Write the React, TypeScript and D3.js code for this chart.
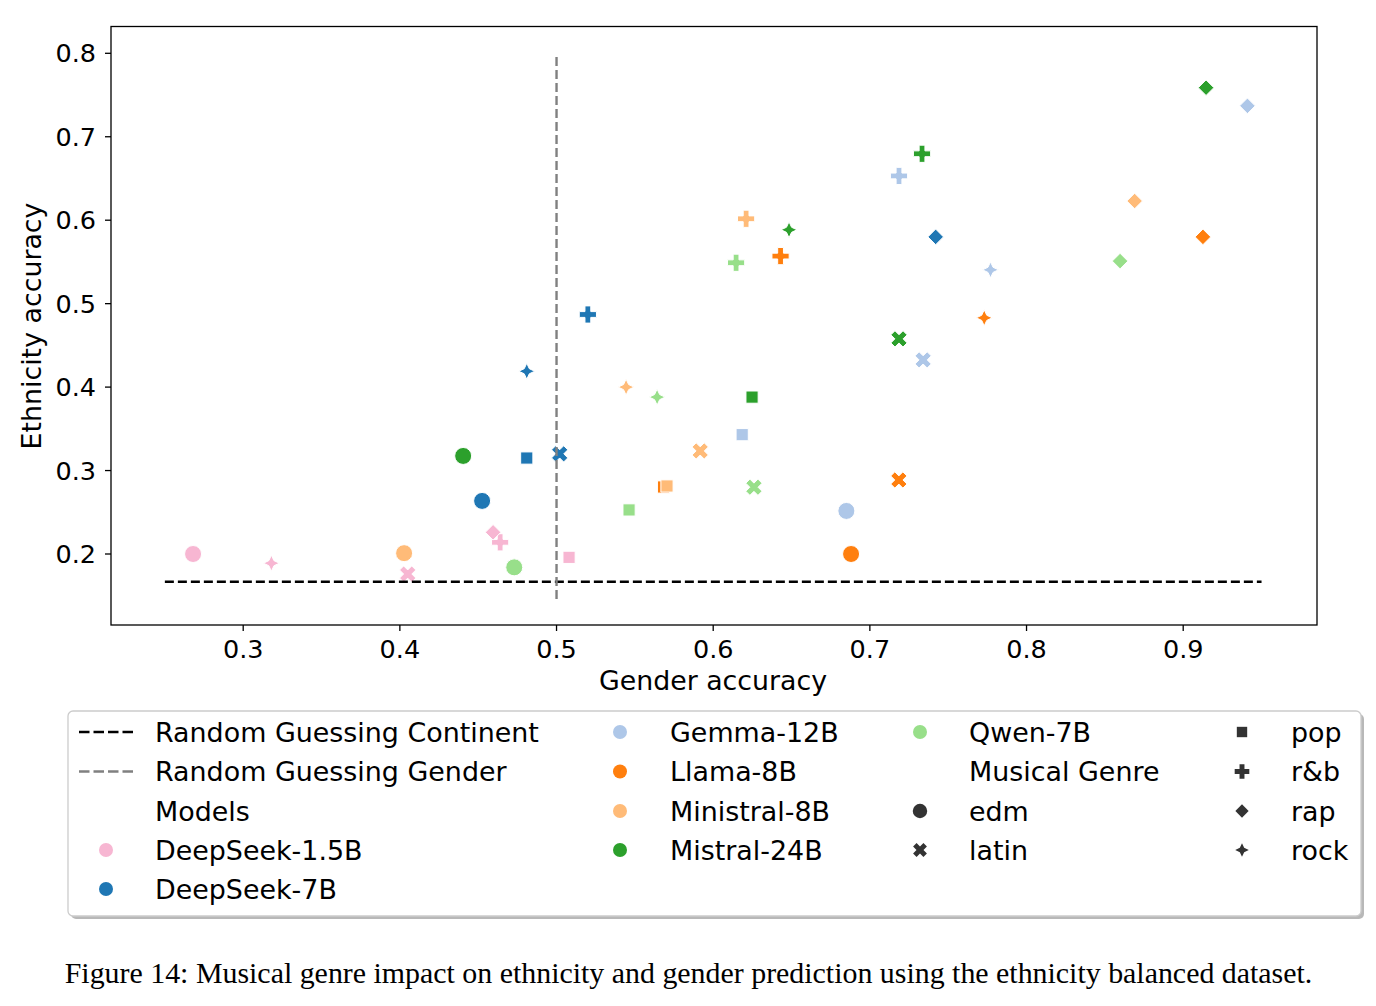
import React from "react";
import * as d3 from "d3";

const genres = ["edm", "latin", "pop", "r&b", "rap", "rock"];
const models = ["DeepSeek-1.5B", "DeepSeek-7B", "Gemma-12B", "Llama-8B", "Ministral-8B", "Mistral-24B", "Qwen-7B"];
const modelColors = ["#f7b6d2", "#1f77b4", "#aec7e8", "#ff7f0e", "#ffbb78", "#2ca02c", "#98df8a"];

// values per model, in genre order: edm, latin, pop, r&b, rap, rock
const genderAcc = [
  [0.268, 0.405, 0.508, 0.464, 0.4595, 0.318],
  [0.4525, 0.502, 0.481, 0.52, 0.742, 0.481],
  [0.685, 0.734, 0.6185, 0.7186, 0.941, 0.777],
  [0.688, 0.7185, 0.5683, 0.643, 0.9126, 0.773],
  [0.4027, 0.5917, 0.5705, 0.621, 0.869, 0.5444],
  [0.4404, 0.7186, 0.6248, 0.7333, 0.9146, 0.6484],
  [0.473, 0.626, 0.5463, 0.6146, 0.8597, 0.5642],
];
const ethnicityAcc = [
  [0.2, 0.176, 0.196, 0.214, 0.226, 0.189],
  [0.2636, 0.32, 0.315, 0.487, 0.58, 0.419],
  [0.2516, 0.4326, 0.343, 0.653, 0.737, 0.5405],
  [0.2, 0.2887, 0.2803, 0.557, 0.58, 0.483],
  [0.201, 0.3235, 0.2815, 0.6017, 0.623, 0.4],
  [0.3175, 0.4578, 0.388, 0.6796, 0.7588, 0.5885],
  [0.184, 0.28, 0.2528, 0.549, 0.551, 0.388],
];

const xTicks = [0.3, 0.4, 0.5, 0.6, 0.7, 0.8, 0.9];
const yTicks = [0.2, 0.3, 0.4, 0.5, 0.6, 0.7, 0.8];
const randomContinent = 1 / 6;
const randomGender = 0.5;
const continentLineX = [0.25, 0.95];
const genderLineY = [0.146, 0.8];

const FONT = "'DejaVu Sans', sans-serif";

function markerPath(genre: string, s: number): string {
  const p = d3.path();
  if (genre === "edm") {
    const r = 8.5 * s;
    p.arc(0, 0, r, 0, Math.PI * 2);
    p.closePath();
  } else if (genre === "pop") {
    const h = 6.1 * s;
    p.rect(-h, -h, 2 * h, 2 * h);
  } else if (genre === "r&b" || genre === "latin") {
    const L = 8.6 * s;
    const t = 2.9 * s;
    const pts: [number, number][] = [
      [-t, -L], [t, -L], [t, -t], [L, -t], [L, t], [t, t], [t, L], [-t, L], [-t, t], [-L, t], [-L, -t], [-t, -t],
    ];
    const a = genre === "latin" ? Math.PI / 4 : 0;
    const rot = pts.map(([x, y]) => [x * Math.cos(a) - y * Math.sin(a), x * Math.sin(a) + y * Math.cos(a)]);
    rot.forEach(([x, y], i) => (i === 0 ? p.moveTo(x, y) : p.lineTo(x, y)));
    p.closePath();
  } else if (genre === "rap") {
    const h = 7.8 * s;
    p.moveTo(0, -h);
    p.lineTo(h, 0);
    p.lineTo(0, h);
    p.lineTo(-h, 0);
    p.closePath();
  } else {
    const R = 8 * s;
    const r = 3.6 * s;
    for (let i = 0; i < 8; i++) {
      const ang = -Math.PI / 2 + (i * Math.PI) / 4;
      const rr = i % 2 === 0 ? R : r;
      const x = rr * Math.cos(ang);
      const y = rr * Math.sin(ang);
      i === 0 ? p.moveTo(x, y) : p.lineTo(x, y);
    }
    p.closePath();
  }
  return p.toString();
}

export default function App() {
  const W = 1376;
  const H = 1006;
  const left = 111, right = 1317, top = 26.5, bottom = 625;
  const x = d3.scaleLinear().domain([0.3, 0.9]).range([243.2, 1183.2]);
  const y = d3.scaleLinear().domain([0.2, 0.8]).range([554, 53.3]);

  const points: { gx: number; ey: number; color: string; genre: string }[] = [];
  models.forEach((m, mi) => {
    genres.forEach((g, gi) => {
      points.push({ gx: genderAcc[mi][gi], ey: ethnicityAcc[mi][gi], color: modelColors[mi], genre: g });
    });
  });

  const rowY = [732, 771.5, 811, 850, 889];
  const col1Items = [
    { kind: "line", color: "#000000", label: "Random Guessing Continent" },
    { kind: "line", color: "#808080", label: "Random Guessing Gender" },
    { kind: "title", color: "", label: "Models" },
    { kind: "model", color: modelColors[0], label: models[0] },
    { kind: "model", color: modelColors[1], label: models[1] },
  ];
  const col2Items = models.slice(2, 6).map((m, i) => ({ color: modelColors[i + 2], label: m }));
  const LFS = 26.9;

  return (
    <div style={{ position: "absolute", left: 0, top: 0 }}>
      <svg width={W} height={H} viewBox={`0 0 ${W} ${H}`} style={{ display: "block", background: "#fff" }}>
        <rect x={0} y={0} width={W} height={H} fill="#fff" />
        {/* points */}
        <g>
          {points.map((pt, i) => (
            <path
              key={i}
              d={markerPath(pt.genre, 1)}
              transform={`translate(${x(pt.gx)},${y(pt.ey)})`}
              fill={pt.color}
              stroke="#fff"
              strokeWidth={1}
            />
          ))}
        </g>
        {/* reference lines */}
        <line
          x1={x(continentLineX[0])}
          x2={x(continentLineX[1])}
          y1={y(randomContinent)}
          y2={y(randomContinent)}
          stroke="#000"
          strokeWidth={2.4}
          strokeDasharray="9 4"
        />
        <line
          x1={x(randomGender)}
          x2={x(randomGender)}
          y1={y(genderLineY[0])}
          y2={y(genderLineY[1])}
          stroke="#808080"
          strokeWidth={2.4}
          strokeDasharray="9 4"
        />
        {/* frame */}
        <rect x={left} y={top} width={right - left} height={bottom - top} fill="none" stroke="#000" strokeWidth={1.3} />
        {/* ticks */}
        {xTicks.map((t) => (
          <g key={`x${t}`}>
            <line x1={x(t)} x2={x(t)} y1={bottom} y2={bottom + 6} stroke="#000" strokeWidth={1.3} />
            <text x={x(t)} y={658} textAnchor="middle" fontFamily={FONT} fontSize={25.5} fill="#000">
              {d3.format(".1f")(t)}
            </text>
          </g>
        ))}
        {yTicks.map((t) => (
          <g key={`y${t}`}>
            <line x1={left - 6} x2={left} y1={y(t)} y2={y(t)} stroke="#000" strokeWidth={1.3} />
            <text x={96} y={y(t)} dy="0.36em" textAnchor="end" fontFamily={FONT} fontSize={25.5} fill="#000">
              {d3.format(".1f")(t)}
            </text>
          </g>
        ))}
        <text x={713} y={690} textAnchor="middle" fontFamily={FONT} fontSize={26.8} fill="#000">
          Gender accuracy
        </text>
        <text
          transform={`translate(41,326) rotate(-90)`}
          textAnchor="middle"
          fontFamily={FONT}
          fontSize={26.8}
          fill="#000"
        >
          Ethnicity accuracy
        </text>

        {/* legend */}
        <rect x={71} y={714} width={1293} height={205} rx={5} fill="#9a9a9a" opacity={0.7} />
        <rect x={68} y={711} width={1293} height={205} rx={5} fill="#fff" stroke="#cccccc" strokeWidth={1.3} />
        {col1Items.map((it, i) => (
          <g key={`c1${i}`}>
            {it.kind === "line" && (
              <line x1={79} x2={133} y1={rowY[i]} y2={rowY[i]} stroke={it.color} strokeWidth={2.4} strokeDasharray="10.5 4" />
            )}
            {it.kind === "model" && <circle cx={106} cy={rowY[i]} r={7} fill={it.color} />}
            <text x={155} y={rowY[i]} dy="0.36em" fontFamily={FONT} fontSize={LFS} fill="#000">
              {it.label}
            </text>
          </g>
        ))}
        {col2Items.map((it, i) => (
          <g key={`c2${i}`}>
            <circle cx={620} cy={rowY[i]} r={7} fill={it.color} />
            <text x={670} y={rowY[i]} dy="0.36em" fontFamily={FONT} fontSize={LFS} fill="#000">
              {it.label}
            </text>
          </g>
        ))}
        <g>
          <circle cx={920} cy={rowY[0]} r={7} fill={modelColors[6]} />
          <text x={969} y={rowY[0]} dy="0.36em" fontFamily={FONT} fontSize={LFS} fill="#000">
            {models[6]}
          </text>
          <text x={969} y={rowY[1]} dy="0.36em" fontFamily={FONT} fontSize={LFS} fill="#000">
            Musical Genre
          </text>
          {genres.slice(0, 2).map((g, i) => (
            <g key={`g3${g}`}>
              <path d={markerPath(g, 0.85)} transform={`translate(920,${rowY[i + 2]})`} fill="#333" />
              <text x={969} y={rowY[i + 2]} dy="0.36em" fontFamily={FONT} fontSize={LFS} fill="#000">
                {g}
              </text>
            </g>
          ))}
          {genres.slice(2).map((g, i) => (
            <g key={`g4${g}`}>
              <path d={markerPath(g, 0.85)} transform={`translate(1242,${rowY[i]})`} fill="#333" />
              <text x={1291} y={rowY[i]} dy="0.36em" fontFamily={FONT} fontSize={LFS} fill="#000">
                {g}
              </text>
            </g>
          ))}
        </g>

        {/* caption */}
        <text x={688.5} y={983} textAnchor="middle" fontFamily="'Liberation Serif', 'Times New Roman', serif" fontSize={29.9} fill="#000">
          Figure 14: Musical genre impact on ethnicity and gender prediction using the ethnicity balanced dataset.
        </text>
      </svg>
    </div>
  );
}
